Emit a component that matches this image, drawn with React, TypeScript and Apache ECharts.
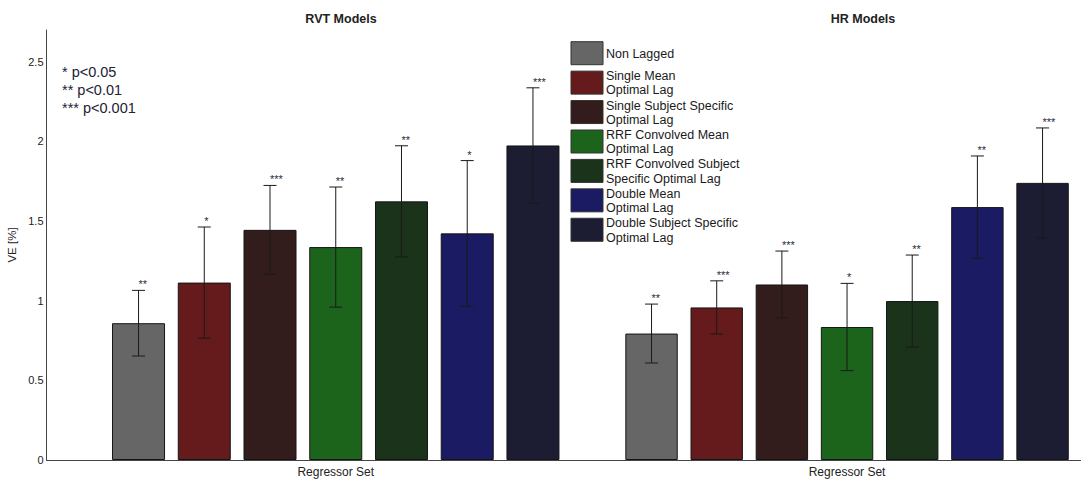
import React, { useEffect, useRef } from "react";
import * as echarts from "echarts";

const categories = [
  "Non Lagged",
  "Single Mean\nOptimal Lag",
  "Single Subject Specific\nOptimal Lag",
  "RRF Convolved Mean\nOptimal Lag",
  "RRF Convolved Subject\nSpecific Optimal Lag",
  "Double Mean\nOptimal Lag",
  "Double Subject Specific\nOptimal Lag",
];
const colors = ["#666666", "#651b1b", "#321c1c", "#1c641c", "#1b321b", "#1b1b64", "#1c1c32"];
const positions = [1, 2, 3, 4, 5, 6, 7];

const rvtValues = [0.859, 1.114, 1.445, 1.337, 1.624, 1.423, 1.975];
const rvtErrors = [0.206, 0.349, 0.279, 0.377, 0.349, 0.457, 0.362];
const rvtStars = ["**", "*", "***", "**", "**", "*", "***"];

const hrValues = [0.794, 0.958, 1.102, 0.835, 0.998, 1.588, 1.74];
const hrErrors = [0.185, 0.167, 0.21, 0.274, 0.289, 0.321, 0.345];
const hrStars = ["**", "***", "***", "*", "**", "**", "***"];

const yTicks = [0, 0.5, 1, 1.5, 2, 2.5];
const pLegend = ["* p<0.05", "** p<0.01", "*** p<0.001"];
const panelTitles = ["RVT Models", "HR Models"];
const xLabel = "Regressor Set";
const yLabel = "VE [%]";

const FONT = "'Liberation Sans', Arial, Helvetica, sans-serif";

export default function App() {
  const ref = useRef<HTMLDivElement>(null);

  useEffect(() => {
    if (!ref.current) return;
    const chart = echarts.init(ref.current, undefined, { renderer: "svg" });

    const panels = [
      { name: panelTitles[0], values: rvtValues, errors: rvtErrors, stars: rvtStars, barWidth: 53 },
      { name: panelTitles[1], values: hrValues, errors: hrErrors, stars: hrStars, barWidth: 52.4 },
    ];

    const series: any[] = [];
    panels.forEach((p, pi) => {
      series.push({
        type: "bar",
        name: p.name,
        xAxisIndex: pi,
        yAxisIndex: pi,
        barWidth: p.barWidth,
        data: positions.map((x, i) => ({
          name: categories[i],
          value: [x, p.values[i]],
          itemStyle: { color: colors[i], borderColor: "#151515", borderWidth: 1 },
        })),
        z: 2,
      });
      const errData = positions.map((x, i) => [x, p.values[i] - p.errors[i], p.values[i] + p.errors[i]]);
      series.push({
        type: "custom",
        xAxisIndex: pi,
        yAxisIndex: pi,
        z: 5,
        data: errData,
        encode: { x: 0, y: [1, 2] },
        renderItem: (params: any, api: any) => {
          const x = api.value(0);
          const lo = api.value(1);
          const hi = api.value(2);
          const pHi = api.coord([x, hi]);
          const pLo = api.coord([x, lo]);
          const cap = 6.5;
          const st = { stroke: "#1a1a1a", lineWidth: 1 };
          return {
            type: "group",
            children: [
              { type: "line", shape: { x1: pHi[0], y1: pHi[1], x2: pLo[0], y2: pLo[1] }, style: st },
              { type: "line", shape: { x1: pHi[0] - cap, y1: pHi[1], x2: pHi[0] + cap, y2: pHi[1] }, style: st },
              { type: "line", shape: { x1: pLo[0] - cap, y1: pLo[1], x2: pLo[0] + cap, y2: pLo[1] }, style: st },
              {
                type: "text",
                x: pHi[0],
                y: pHi[1] - 6,
                style: {
                  text: p.stars[params.dataIndex],
                  fill: "#2a2a3a",
                  fontSize: 11,
                  fontFamily: FONT,
                  align: "left",
                  verticalAlign: "middle",
                },
              },
            ],
          };
        },
      });
    });

    const legendTop = 41.7;
    const legendStep = 29.43;
    const graphic: any[] = [];
    categories.forEach((c, i) => {
      const y = legendTop + i * legendStep;
      graphic.push({
        type: "rect",
        x: 571,
        y,
        shape: { x: 0, y: 0, width: 32, height: 23 },
        style: { fill: colors[i], stroke: "#333", lineWidth: 1 },
        z: 10,
      });
      graphic.push({
        type: "text",
        x: 606,
        y: y + 12.2,
        style: {
          text: c,
          fill: "#1a1a1a",
          fontSize: 12.5,
          fontFamily: FONT,
          lineHeight: 14.3,
          align: "left",
          verticalAlign: "middle",
        },
        z: 10,
      });
    });
    pLegend.forEach((t, i) => {
      graphic.push({
        type: "text",
        x: 62,
        y: 72 + i * 18,
        style: {
          text: t,
          fill: "#222233",
          fontSize: 14.5,
          fontFamily: FONT,
          align: "left",
          verticalAlign: "middle",
        },
        z: 10,
      });
    });

    const yAxisBase = {
      type: "value",
      min: 0,
      max: 2.7,
      interval: 0.5,
      splitLine: { show: false },
      axisTick: { show: false },
    };

    chart.setOption({
      animation: false,
      backgroundColor: "#ffffff",
      textStyle: { fontFamily: FONT },
      title: [
        {
          text: panelTitles[0],
          left: 336,
          top: 7,
          textAlign: "center",
          textStyle: { fontSize: 12.5, fontWeight: "bold", color: "#222", fontFamily: FONT },
        },
        {
          text: panelTitles[1],
          left: 858,
          top: 7,
          textAlign: "center",
          textStyle: { fontSize: 12.5, fontWeight: "bold", color: "#222", fontFamily: FONT },
        },
      ],
      grid: [
        { left: 46.5, width: 578.5, top: 30, height: 430, outerBoundsMode: "none", containLabel: false },
        { left: 560.3, width: 573.5, top: 30, height: 430, outerBoundsMode: "none", containLabel: false },
      ],
      xAxis: [0, 1].map((gi) => ({
        type: "value",
        gridIndex: gi,
        min: -0.4,
        max: 8.4,
        axisLine: { show: true, onZero: false, lineStyle: { color: "#444", width: 1 } },
        axisTick: { show: false },
        axisLabel: { show: false },
        splitLine: { show: false },
        name: xLabel,
        nameLocation: "middle",
        nameGap: 6,
        nameTextStyle: { fontSize: 12, color: "#222", fontFamily: FONT, verticalAlign: "top" },
      })),
      yAxis: [
        {
          ...yAxisBase,
          gridIndex: 0,
          axisLine: { show: true, onZero: false, lineStyle: { color: "#444", width: 1 } },
          axisLabel: {
            show: true,
            margin: 3,
            fontSize: 11,
            color: "#222",
            fontFamily: FONT,
            formatter: (v: number) => (yTicks.some((t) => Math.abs(t - v) < 1e-6) ? String(v) : ""),
          },
          name: yLabel,
          nameLocation: "middle",
          nameRotate: 90,
          nameGap: 29,
          nameMoveOverlap: false,
          nameTextStyle: { fontSize: 11.5, color: "#222", fontFamily: FONT },
        },
        {
          ...yAxisBase,
          gridIndex: 1,
          show: false,
        },
      ],
      series,
      graphic,
    });

    return () => chart.dispose();
  }, []);

  return (
    <div
      ref={ref}
      style={{ position: "absolute", left: 0, top: 0, width: 1081, height: 482, background: "#fff" }}
    />
  );
}
